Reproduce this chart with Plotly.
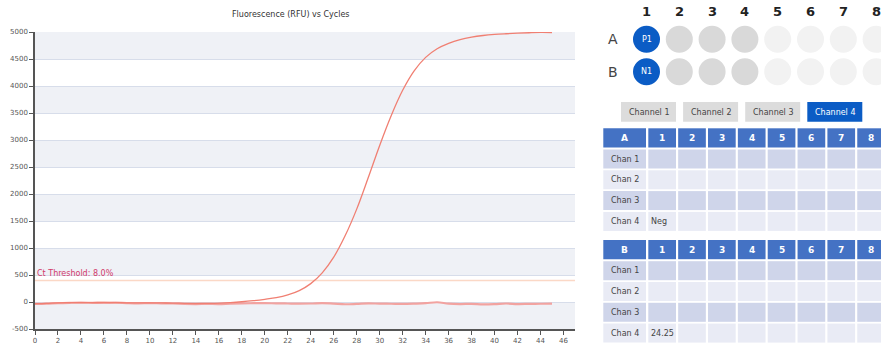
import plotly.graph_objects as go

# ---------------- data ----------------
W, H = 881, 344
chart_title = "Fluorescence (RFU) vs Cycles"
cycles = list(range(46))
pos_rfu = [-30, -25, -15, -12, -10, -10, -8, -10, -15, -18,
           -15, -18, -20, -25, -28, -25, -20, -10, 5, 25,
           50, 80, 130, 210, 340, 540, 830, 1230, 1720, 2300,
           2900, 3450, 3920, 4280, 4530, 4690, 4790, 4860, 4905, 4935,
           4955, 4968, 4978, 4986, 4992, 4990]
neg_rfu = [-35, -30, -20, -15, -12, -15, -18, -12, -20, -25,
           -20, -25, -28, -35, -38, -35, -38, -30, -25, -22,
           -20, -25, -28, -30, -28, -20, -30, -42, -35, -25,
           -30, -32, -35, -30, -22, -5, -30, -38, -35, -45,
           -40, -28, -38, -35, -32, -30]
threshold_rfu = 400
threshold_label = "Ct Threshold: 8.0%"
x_ticks = list(range(0, 47, 2))
y_ticks = list(range(-500, 5001, 500))
y_ticktext = [str(v) for v in y_ticks]

plate_cols = ["1", "2", "3", "4", "5", "6", "7", "8"]
plate_rows = ["A", "B"]
well_text = {"A": ["P1", "", "", "", "", "", "", ""],
             "B": ["N1", "", "", "", "", "", "", ""]}
well_state = {"A": ["sel", "used", "used", "used", "empty", "empty", "empty", "empty"],
              "B": ["sel", "used", "used", "used", "empty", "empty", "empty", "empty"]}
channels = ["Channel 1", "Channel 2", "Channel 3", "Channel 4"]
active_channel = "Channel 4"
chan_rows = ["Chan 1", "Chan 2", "Chan 3", "Chan 4"]
table_values = {
    "A": [[""] * 8, [""] * 8, [""] * 8, ["Neg", "", "", "", "", "", "", ""]],
    "B": [[""] * 8, [""] * 8, [""] * 8, ["24.25", "", "", "", "", "", "", ""]],
}

# ---------------- styling / layout geometry (pixels) ----------------
FONT = "DejaVu Sans"
PL, PR, PT, PB = 35, 575, 32, 329
BAND = "#eff1f6"
GRID = "#d7ddea"
WELL_COLORS = {"sel": "#0b5cc5", "used": "#d9d9d9", "empty": "#f2f2f2"}
HEADER = "#4472c4"
ROW_DARK = "#cfd5ea"
ROW_LIGHT = "#e9ebf5"

fig = go.Figure()

fig.add_trace(go.Scatter(x=cycles, y=neg_rfu, mode="lines",
                         line=dict(color="#f2a3a0", width=2.2, shape="spline"),
                         hoverinfo="skip", xaxis="x", yaxis="y"))
fig.add_trace(go.Scatter(x=cycles, y=pos_rfu, mode="lines",
                         line=dict(color="#f07f72", width=1.3, shape="spline"),
                         hoverinfo="skip", xaxis="x", yaxis="y"))
# invisible trace to activate pixel axis pair
fig.add_trace(go.Scatter(x=[0], y=[0], mode="markers", marker=dict(opacity=0),
                         hoverinfo="skip", xaxis="x2", yaxis="y2"))

shapes = []
annotations = []

# alternating bands
for i in range(0, len(y_ticks) - 1, 2):
    shapes.append(dict(type="rect", xref="x domain", yref="y", x0=0, x1=1,
                       y0=y_ticks[i], y1=y_ticks[i + 1], fillcolor=BAND,
                       line=dict(width=0), layer="below"))
# threshold
shapes.append(dict(type="line", xref="x domain", yref="y", x0=0, x1=1,
                   y0=threshold_rfu, y1=threshold_rfu,
                   line=dict(color="#fbd8c6", width=1.5), layer="below"))
annotations.append(dict(xref="x domain", yref="y", x=0, y=threshold_rfu,
                        text=threshold_label, showarrow=False,
                        xanchor="left", yanchor="bottom", xshift=0, yshift=0,
                        font=dict(family=FONT, size=8, color="#d23a6a")))
# title
annotations.append(dict(xref="x2", yref="y2", x=291, y=14, text=chart_title,
                        showarrow=False, xanchor="center", yanchor="middle",
                        font=dict(family=FONT, size=8, color="#333333")))


def px_text(x, y, text, size, color="#444444", bold=False, anchor="center"):
    if bold:
        text = "<b>" + text + "</b>"
    annotations.append(dict(xref="x2", yref="y2", x=x, y=y, text=text,
                            showarrow=False, xanchor=anchor, yanchor="middle",
                            font=dict(family=FONT, size=size, color=color)))


def px_rect(x0, y0, x1, y1, color):
    shapes.append(dict(type="rect", xref="x2", yref="y2", x0=x0, x1=x1,
                       y0=y0, y1=y1, fillcolor=color, line=dict(width=0)))


# plate
col_x0, col_dx = 646.5, 32.8
row_y = {"A": 39.3, "B": 71.7}
R = 13.5
for j, c in enumerate(plate_cols):
    px_text(col_x0 + j * col_dx, 11.5, c, 13, "#222222", bold=True)
for r in plate_rows:
    px_text(612.7, row_y[r], r, 14, "#444444")
    for j in range(len(plate_cols)):
        cx, cy = col_x0 + j * col_dx, row_y[r]
        shapes.append(dict(type="circle", xref="x2", yref="y2",
                           x0=cx - R, x1=cx + R, y0=cy - R, y1=cy + R,
                           fillcolor=WELL_COLORS[well_state[r][j]],
                           line=dict(width=0)))
        if well_text[r][j]:
            px_text(cx, cy, well_text[r][j], 8, "white")

# channel buttons
for k, ch in enumerate(channels):
    x0 = 621 + k * 62.1
    active = ch == active_channel
    px_rect(x0, 102, x0 + 55, 121.7, "#0b5cc5" if active else "#dcdcdc")
    px_text(x0 + 27.5, 112, ch, 8, "white" if active else "#444444")

# tables
lab_x0, lab_x1 = 603.3, 646
cell_x0, cell_dx, cell_w = 648.3, 29.85, 27.7
for t, top in (("A", 128.3), ("B", 240.0)):
    pitch = 20.8
    px_rect(lab_x0, top, lab_x1, top + 19.2, HEADER)
    px_text((lab_x0 + lab_x1) / 2, top + 9.6, t, 9, "white", bold=True)
    for j, c in enumerate(plate_cols):
        x0 = cell_x0 + j * cell_dx
        px_rect(x0, top, x0 + cell_w, top + 19.2, HEADER)
        px_text(x0 + cell_w / 2, top + 9.6, c, 9, "white", bold=True)
    for i, rl in enumerate(chan_rows):
        y0 = top + 21.2 + i * pitch
        col = ROW_DARK if i % 2 == 0 else ROW_LIGHT
        px_rect(lab_x0, y0, lab_x1, y0 + 19, col)
        px_text((lab_x0 + lab_x1) / 2, y0 + 9.5, rl, 8, "#444444")
        for j in range(len(plate_cols)):
            x0 = cell_x0 + j * cell_dx
            px_rect(x0, y0, x0 + cell_w, y0 + 19, col)
            v = table_values[t][i][j]
            if v:
                px_text(x0 + 0.5, y0 + 9.5, v, 8, "#444444", anchor="left")

fig.update_layout(
    width=W, height=H, autosize=False,
    margin=dict(l=0, r=0, t=0, b=0, pad=0),
    paper_bgcolor="white", plot_bgcolor="rgba(0,0,0,0)",
    showlegend=False,
    shapes=shapes, annotations=annotations,
    xaxis=dict(domain=[PL / W, PR / W], range=[0, 47], anchor="y",
               tickvals=x_ticks, ticks="outside", ticklen=4, tickwidth=1,
               tickcolor="#555555", showline=True, linecolor="#555555",
               linewidth=1.5, showgrid=False, zeroline=False,
               tickfont=dict(family=FONT, size=7, color="#555555"),
               automargin=False, fixedrange=True),
    yaxis=dict(domain=[(H - PB) / H, (H - PT) / H], range=[-500, 5000],
               anchor="x", tickvals=y_ticks, ticktext=y_ticktext,
               ticks="outside", ticklen=4, tickwidth=1, tickcolor="#555555",
               showline=True, linecolor="#555555", linewidth=1.5,
               showgrid=True, gridcolor=GRID, gridwidth=1.3, zeroline=False,
               tickfont=dict(family=FONT, size=7, color="#555555"),
               automargin=False, fixedrange=True),
    xaxis2=dict(domain=[0, 1], range=[0, W], anchor="y2", visible=False,
                fixedrange=True),
    yaxis2=dict(domain=[0, 1], range=[H, 0], anchor="x2", visible=False,
                fixedrange=True),
)

fig.write_html("out.html", config={"displayModeBar": False},
               post_script="document.body.style.margin='0px';"
                           "document.body.style.overflow='hidden';")
